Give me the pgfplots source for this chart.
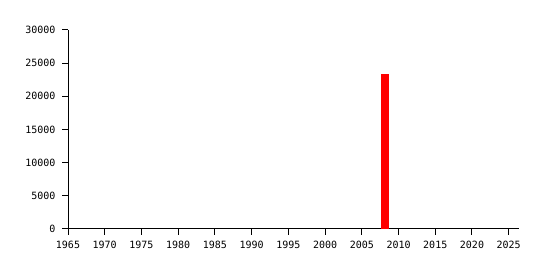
\documentclass[border=0pt]{standalone}
\usepackage{pgfplots}
\pgfplotsset{compat=1.18}
\usepackage{fontspec}
\setmainfont{DejaVu Sans Mono}
\begin{document}
\begin{tikzpicture}[x=1pt,y=1pt]
\useasboundingbox (0,0) rectangle (546,270);
\begin{axis}[
  at={(68pt,41pt)}, anchor=origin,
  scale only axis, width=451pt, height=199pt,
  xmin=1965, xmax=2026.4, ymin=0, ymax=30000,
  axis x line=bottom, axis y line=left,
  axis line style={-, line width=1pt},
  xtick={1965,1970,...,2025}, ytick={0,5000,...,30000},
  tick align=outside, major tick length=6pt,
  tick style={line width=1pt, black},
  /pgf/number format/assume math mode=true,
  /pgf/number format/1000 sep={},
  ticklabel style={font=\fontsize{10}{12}\selectfont},
  xticklabel style={yshift=-3pt},
  yticklabel style={xshift=-3pt},
  scaled y ticks=false,
  enlargelimits=false,
  clip=false,
]
\addplot[ybar, bar width=8pt, fill=red, draw=none] coordinates {(2008.1,23350)};
\end{axis}
\end{tikzpicture}
\end{document}
